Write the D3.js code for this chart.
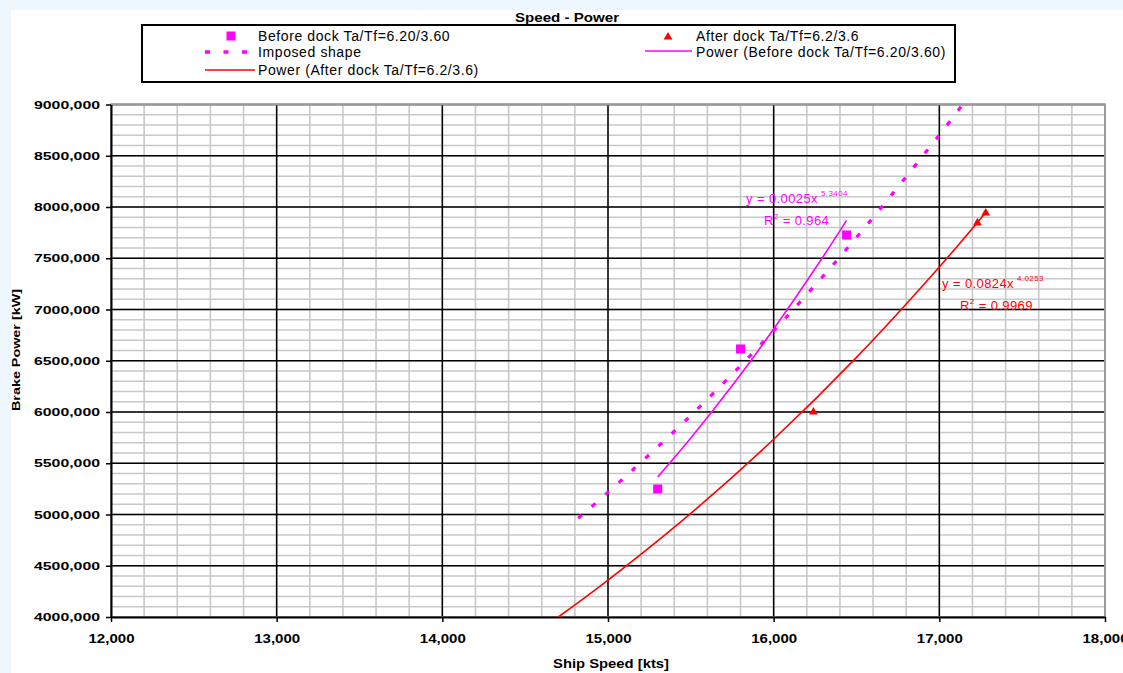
<!DOCTYPE html>
<html>
<head>
<meta charset="utf-8">
<script src="https://cdn.jsdelivr.net/npm/d3@7"></script>
<style>
  body { margin: 0; background: #eef6fe; }
  svg { display: block; font-family: "Liberation Sans", Arial, sans-serif; }
</style>
</head>
<body>
<svg id="chart" width="1123" height="673"></svg>
<script>
// axis ticks
const xTicks = [12, 13, 14, 15, 16, 17, 18];
const xTickLabels = ["12,000", "13,000", "14,000", "15,000", "16,000", "17,000", "18,000"];
const yTicks = [4000, 4500, 5000, 5500, 6000, 6500, 7000, 7500, 8000, 8500, 9000];
const yTickLabels = ["4000,000", "4500,000", "5000,000", "5500,000", "6000,000", "6500,000",
                     "7000,000", "7500,000", "8000,000", "8500,000", "9000,000"];

// measured points (kts, kW)
const beforeSpeed = [15.30, 15.80, 16.44];
const beforePower = [5249, 6615, 7727];
const afterSpeed = [16.24, 17.23, 17.28];
const afterPower = [6000, 7844, 7941];

// imposed shape
const imposedSpeed = [14.82, 15.00, 15.50, 16.00, 16.50, 17.00, 17.16];
const imposedPower = [4963, 5217, 5966, 6792, 7703, 8703, 9040];

// power trendlines
const fitBeforeSpeed = [15.30, 15.50, 15.75, 16.00, 16.25, 16.44];
const fitBeforePower = [5366, 5746, 6258, 6810, 7397, 7870];
const fitAfterSpeed = [14.70, 15.00, 15.50, 16.00, 16.50, 17.00, 17.28];
const fitAfterPower = [4000, 4360, 5011, 5734, 6533, 7415, 7947];

const MAG = "#ff00ff", RED = "#ff0000";

const svg = d3.select("#chart");

// white page with light strip on top / left
svg.append("rect").attr("x", 11).attr("y", 10).attr("width", 1112).attr("height", 663).attr("fill", "#fff");

const x = d3.scaleLinear().domain([12, 18]).range([111, 1105]);
const y = d3.scaleLinear().domain([4000, 9000]).range([617, 104.5]);

// minor grid
const xMinor = d3.range(12, 18.001, 0.2);
const yMinor = d3.range(4000, 9001, 100);
const grid = svg.append("g");
grid.selectAll(".vmin").data(xMinor).join("line")
  .attr("x1", d => x(d)).attr("x2", d => x(d))
  .attr("y1", y(4000)).attr("y2", y(9000))
  .attr("stroke", "#c8c8c8").attr("stroke-width", 1.6);
grid.selectAll(".hmin").data(yMinor).join("line")
  .attr("y1", d => y(d)).attr("y2", d => y(d))
  .attr("x1", x(12)).attr("x2", x(18))
  .attr("stroke", "#c8c8c8").attr("stroke-width", 1.6);

// plot border (top / right gray)
svg.append("rect")
  .attr("x", x(12)).attr("y", y(9000))
  .attr("width", x(18) - x(12)).attr("height", y(4000) - y(9000))
  .attr("fill", "none").attr("stroke", "#9a9a9a").attr("stroke-width", 2);

// major grid
grid.selectAll(".vmaj").data(xTicks).join("line")
  .attr("x1", d => x(d)).attr("x2", d => x(d))
  .attr("y1", y(4000)).attr("y2", y(9000))
  .attr("stroke", "#000").attr("stroke-width", 1.5);
grid.selectAll(".hmaj").data(yTicks).join("line")
  .attr("y1", d => y(d)).attr("y2", d => y(d))
  .attr("x1", x(12)).attr("x2", x(18))
  .attr("stroke", "#000").attr("stroke-width", 1.5);

// axes
const xAxis = svg.append("g")
  .attr("transform", `translate(0,${y(4000)})`)
  .call(d3.axisBottom(x).tickValues(xTicks).tickSize(5).tickSizeOuter(0)
    .tickFormat((d, i) => xTickLabels[i]));
const yAxis = svg.append("g")
  .attr("transform", `translate(${x(12)},0)`)
  .call(d3.axisLeft(y).tickValues(yTicks).tickSize(5).tickSizeOuter(0)
    .tickFormat((d, i) => yTickLabels[i]));

[xAxis, yAxis].forEach(a => {
  a.select(".domain").attr("stroke", "#000").attr("stroke-width", 2);
  a.selectAll(".tick line").attr("stroke", "#000").attr("stroke-width", 1.5);
});
xAxis.selectAll(".tick text")
  .attr("y", 17).attr("dy", "0.71em")
  .attr("font-size", 12).attr("font-weight", "bold").attr("fill", "#000")
  .attr("textLength", 46).attr("lengthAdjust", "spacingAndGlyphs");
yAxis.selectAll(".tick text")
  .attr("x", -11).attr("dy", "0.36em")
  .attr("font-size", 10).attr("font-weight", "bold").attr("fill", "#000")
  .attr("textLength", 66).attr("lengthAdjust", "spacingAndGlyphs");

// axis titles
svg.append("text")
  .attr("x", 611).attr("y", 668).attr("text-anchor", "middle")
  .attr("font-size", 12).attr("font-weight", "bold")
  .attr("textLength", 116).attr("lengthAdjust", "spacingAndGlyphs")
  .text("Ship Speed [kts]");
svg.append("text")
  .attr("transform", "translate(20,350) rotate(-90)").attr("text-anchor", "middle")
  .attr("font-size", 11).attr("font-weight", "bold")
  .attr("textLength", 122).attr("lengthAdjust", "spacingAndGlyphs")
  .text("Brake Power [kW]");

// clip to plot area
svg.append("clipPath").attr("id", "plotclip").append("rect")
  .attr("x", x(12)).attr("y", y(9000))
  .attr("width", x(18) - x(12)).attr("height", y(4000) - y(9000));
const plot = svg.append("g").attr("clip-path", "url(#plotclip)");

const line = d3.line().x(d => x(d[0])).y(d => y(d[1])).curve(d3.curveCatmullRom);

plot.append("path")
  .datum(d3.zip(fitAfterSpeed, fitAfterPower))
  .attr("d", line).attr("fill", "none").attr("stroke", RED).attr("stroke-width", 1.6);
plot.append("path")
  .datum(d3.zip(fitBeforeSpeed, fitBeforePower))
  .attr("d", line).attr("fill", "none").attr("stroke", MAG).attr("stroke-width", 1.6);
plot.append("path")
  .datum(d3.zip(imposedSpeed, imposedPower))
  .attr("d", line).attr("fill", "none").attr("stroke", MAG).attr("stroke-width", 3.2)
  .attr("stroke-dasharray", "5 13");

// markers
plot.selectAll(".sq").data(d3.zip(beforeSpeed, beforePower)).join("rect")
  .attr("x", d => x(d[0]) - 4.5).attr("y", d => y(d[1]) - 4.5)
  .attr("width", 9).attr("height", 9).attr("fill", MAG);
const tri = d3.symbol().type(d3.symbolTriangle).size(34);
plot.selectAll(".tri").data(d3.zip(afterSpeed, afterPower)).join("path")
  .attr("d", tri).attr("transform", d => `translate(${x(d[0])},${y(d[1])})`).attr("fill", RED);

// trendline equations
function eq(g, cx, cy, coef, expo, r2, color) {
  const t = g.append("text").attr("x", cx).attr("y", cy)
    .attr("font-size", 13).attr("letter-spacing", 0.4).attr("fill", color);
  t.append("tspan").text("y = " + coef + "x");
  t.append("tspan").attr("font-size", 8).attr("dy", -7).attr("dx", 3).text(expo);
  const r = g.append("text").attr("x", cx + 18).attr("y", cy + 22)
    .attr("font-size", 13).attr("letter-spacing", 0.4).attr("fill", color);
  r.append("tspan").text("R");
  r.append("tspan").attr("font-size", 8).attr("dy", -6).text("2");
  r.append("tspan").attr("dy", 6).text(" = " + r2);
}
eq(svg, 746, 203, "0.0025", "5.3404", "0.964", MAG);
eq(svg, 942, 288, "0.0824", "4.0253", "0.9969", RED);

// title
svg.append("text")
  .attr("x", 567).attr("y", 22).attr("text-anchor", "middle")
  .attr("font-size", 13).attr("font-weight", "bold")
  .attr("textLength", 104).attr("lengthAdjust", "spacingAndGlyphs")
  .text("Speed - Power");

// legend
const lg = svg.append("g");
lg.append("rect").attr("x", 142).attr("y", 25).attr("width", 813).attr("height", 57)
  .attr("fill", "#fff").attr("stroke", "#000").attr("stroke-width", 2);

const legendText = (tx, ty, s) => lg.append("text").attr("x", tx).attr("y", ty)
  .attr("font-size", 14).attr("letter-spacing", 0.6).attr("fill", "#000").text(s);

lg.append("rect").attr("x", 226.5).attr("y", 31.5).attr("width", 9).attr("height", 9).attr("fill", MAG);
legendText(258, 41, "Before dock Ta/Tf=6.20/3.60");
lg.append("line").attr("x1", 205).attr("x2", 252).attr("y1", 52).attr("y2", 52)
  .attr("stroke", MAG).attr("stroke-width", 3.5).attr("stroke-dasharray", "5 13.5");
legendText(258, 57, "Imposed shape");
lg.append("line").attr("x1", 205).attr("x2", 255).attr("y1", 70).attr("y2", 70)
  .attr("stroke", RED).attr("stroke-width", 1.6);
legendText(258, 75, "Power (After dock Ta/Tf=6.2/3.6)");

lg.append("path").attr("d", tri).attr("transform", "translate(668,37)").attr("fill", RED);
legendText(696, 41, "After dock Ta/Tf=6.2/3.6");
lg.append("line").attr("x1", 645).attr("x2", 692).attr("y1", 51).attr("y2", 51)
  .attr("stroke", MAG).attr("stroke-width", 1.6);
legendText(696, 57, "Power (Before dock Ta/Tf=6.20/3.60)");
</script>
</body>
</html>
